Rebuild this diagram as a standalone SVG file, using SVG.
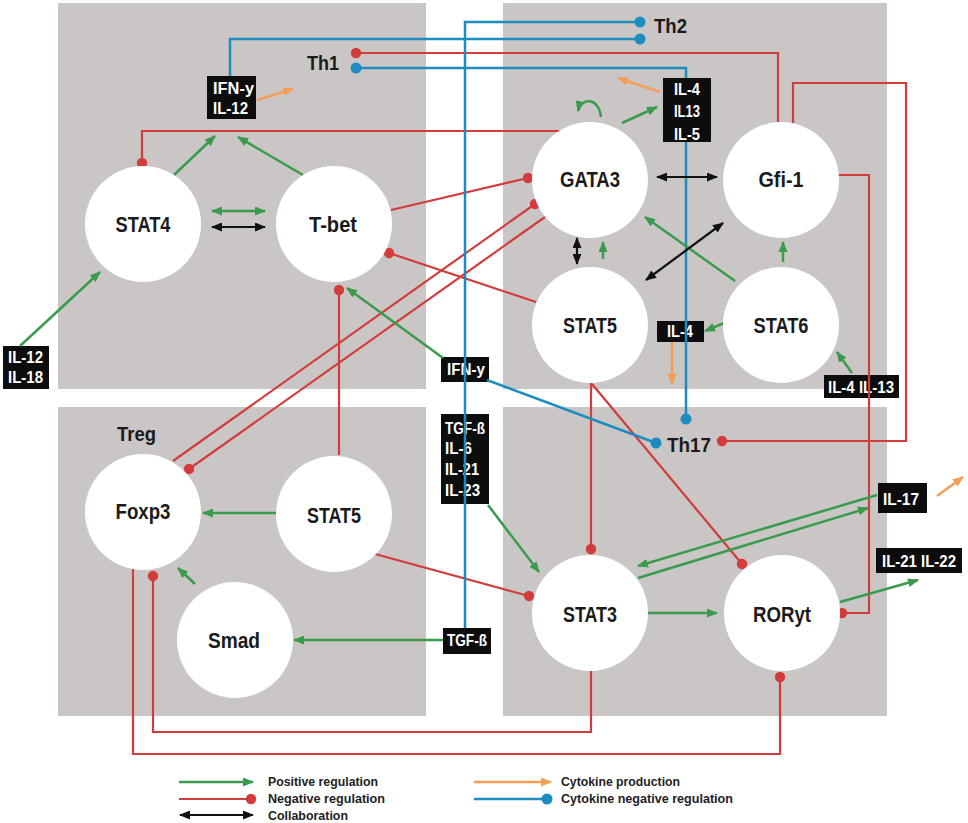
<svg xmlns="http://www.w3.org/2000/svg" width="968" height="823" viewBox="0 0 968 823">
<style>
.panel{fill:#cbc6c6}
.node{fill:#fff}
.nl{font-family:"Liberation Sans",Arial,sans-serif;font-weight:bold;font-size:22px;fill:#1a1a1a;text-anchor:middle}
.th{font-family:"Liberation Sans",Arial,sans-serif;font-weight:bold;font-size:21px;fill:#1a1a1a}
.box{fill:#0d0d0d}
.bt{font-family:"Liberation Sans",Arial,sans-serif;font-weight:bold;font-size:16px;fill:#fff}
.lg{font-family:"Liberation Sans",Arial,sans-serif;font-weight:bold;font-size:13.5px;fill:#222}
.g{stroke:#3a9a4e;stroke-width:2.5;fill:none;marker-end:url(#ag)}
.gg{stroke:#3a9a4e;stroke-width:2.5;fill:none;marker-start:url(#ag);marker-end:url(#ag)}
.r{stroke:#d23c3c;stroke-width:2.2;fill:none;marker-end:url(#dr)}
.rs{stroke:#d23c3c;stroke-width:2.2;fill:none;marker-start:url(#dr)}
.rn{stroke:#d23c3c;stroke-width:2.2;fill:none}
.b{stroke:#1d8dc0;stroke-width:2.5;fill:none;marker-end:url(#db)}
.bb{stroke:#1d8dc0;stroke-width:2.5;fill:none;marker-start:url(#db);marker-end:url(#db)}
.k{stroke:#111;stroke-width:2.2;fill:none;marker-start:url(#ak);marker-end:url(#ak)}
.o{stroke:#f39d55;stroke-width:2.5;fill:none;marker-end:url(#ao)}
</style>
<defs>
<marker id="ag" markerUnits="userSpaceOnUse" markerWidth="11" markerHeight="9" refX="10" refY="4.5" orient="auto-start-reverse"><path d="M0,0 L11,4.5 L0,9 z" fill="#3a9a4e"/></marker>
<marker id="ak" markerUnits="userSpaceOnUse" markerWidth="11" markerHeight="9" refX="10" refY="4.5" orient="auto-start-reverse"><path d="M0,0 L11,4.5 L0,9 z" fill="#111"/></marker>
<marker id="ao" markerUnits="userSpaceOnUse" markerWidth="11" markerHeight="9" refX="10" refY="4.5" orient="auto-start-reverse"><path d="M0,0 L11,4.5 L0,9 z" fill="#f39d55"/></marker>
<marker id="dr" markerUnits="userSpaceOnUse" markerWidth="12" markerHeight="12" refX="6" refY="6" orient="auto"><circle cx="6" cy="6" r="5.2" fill="#d23c3c"/></marker>
<marker id="db" markerUnits="userSpaceOnUse" markerWidth="12" markerHeight="12" refX="6" refY="6" orient="auto"><circle cx="6" cy="6" r="5.5" fill="#1d8dc0"/></marker>
</defs>
<rect width="968" height="823" fill="#fff"/>
<g id="panels">
<rect class="panel" x="58" y="3" width="368" height="386"/>
<rect class="panel" x="503" y="3" width="384" height="386"/>
<rect class="panel" x="58" y="407" width="368" height="309"/>
<rect class="panel" x="503" y="407" width="384" height="309"/>
</g>
<g id="cell-labels">
<text class="th" x="307" y="70" textLength="32" lengthAdjust="spacingAndGlyphs">Th1</text>
<text class="th" x="654" y="33" textLength="33" lengthAdjust="spacingAndGlyphs">Th2</text>
<text class="th" x="667" y="452" textLength="44" lengthAdjust="spacingAndGlyphs">Th17</text>
<text class="th" x="117" y="441" textLength="39" lengthAdjust="spacingAndGlyphs">Treg</text>
</g>
<g id="cytokines">
<g id="c-ifn-il12"><rect class="box" x="207" y="76" width="49" height="43"/><text class="bt" x="213" y="94" textLength="41" lengthAdjust="spacingAndGlyphs">IFN-y</text><text class="bt" x="213" y="114" textLength="35" lengthAdjust="spacingAndGlyphs">IL-12</text></g>
<g id="c-il12-il18"><rect class="box" x="3" y="346" width="46" height="43"/><text class="bt" x="8" y="363" textLength="35" lengthAdjust="spacingAndGlyphs">IL-12</text><text class="bt" x="8" y="383" textLength="35" lengthAdjust="spacingAndGlyphs">IL-18</text></g>
<g id="c-ifn"><rect class="box" x="441" y="357" width="48" height="25"/><text class="bt" x="447" y="375" textLength="38" lengthAdjust="spacingAndGlyphs">IFN-y</text></g>
<g id="c-tgf-group"><rect class="box" x="441" y="414" width="48" height="90"/><text class="bt" x="445" y="434" textLength="40" lengthAdjust="spacingAndGlyphs">TGF-ß</text><text class="bt" x="445" y="454" textLength="27" lengthAdjust="spacingAndGlyphs">IL-6</text><text class="bt" x="445" y="475" textLength="34" lengthAdjust="spacingAndGlyphs">IL-21</text><text class="bt" x="445" y="496" textLength="35" lengthAdjust="spacingAndGlyphs">IL-23</text></g>
<g id="c-tgf"><rect class="box" x="443" y="628" width="48" height="26"/><text class="bt" x="447" y="646" textLength="40" lengthAdjust="spacingAndGlyphs">TGF-ß</text></g>
<g id="c-il4"><rect class="box" x="657" y="321" width="47" height="21"/><text class="bt" x="667" y="337" textLength="26" lengthAdjust="spacingAndGlyphs">IL-4</text></g>
<g id="c-il4-il13"><rect class="box" x="824" y="375" width="75" height="23"/><text class="bt" x="828" y="393" textLength="66" lengthAdjust="spacingAndGlyphs">IL-4 IL-13</text></g>
<g id="c-il17"><rect class="box" x="878" y="483" width="49" height="30"/><text class="bt" x="883" y="505" textLength="36" lengthAdjust="spacingAndGlyphs">IL-17</text></g>
<g id="c-il21-il22"><rect class="box" x="876" y="548" width="86" height="25"/><text class="bt" x="882" y="567" textLength="74" lengthAdjust="spacingAndGlyphs">IL-21 IL-22</text></g>
</g>
<g id="connectors">
<path class="rs" d="M356,53 H778 V122"/>
<path class="r" d="M793,123 V83 H906 V441 H722"/>
<path class="r" d="M838,175 H869 V613 H842"/>
<path class="rs" d="M142,163 V131 H559"/>
<path class="r" d="M391,210 L528,178"/>
<path class="r" d="M536,302 L389,253"/>
<path class="r" d="M173,461 L535,204"/>
<path class="r" d="M545,217 L189,469"/>
<path class="r" d="M339,455 V290"/>
<path class="r" d="M375,554 L529,596"/>
<path class="r" d="M591,383 V549"/>
<path class="r" d="M592,384 L742,564"/>
<path class="r" d="M591,671 V732 H153 V576"/>
<path class="r" d="M133,569 V754 H780 V677"/>
<path class="b" d="M230,76 V39 H640"/>
<path class="b" d="M465,628 V22 H640"/>
<path class="bb" d="M356,68 H686 V419"/>
<path class="b" d="M487,380 L656,443"/>
<path class="g" d="M174,175 L215,136"/>
<path class="g" d="M303,175 L238,137"/>
<path class="gg" d="M212,211 H265"/>
<path class="g" d="M20,346 L100,272"/>
<path class="g" d="M443,358 L347,288"/>
<path class="g" d="M601,117 C599,97 581,97 578,111"/>
<path class="g" d="M622,123 L657,107"/>
<path class="g" d="M603,259 V242"/>
<path class="g" d="M735,281 L645,217"/>
<path class="g" d="M783,262 V242"/>
<path class="g" d="M724,323 L705,331"/>
<path class="g" d="M852,373 L837,352"/>
<path class="g" d="M488,505 L539,572"/>
<path class="g" d="M877,495 L638,566"/>
<path class="g" d="M638,578 L868,508"/>
<path class="g" d="M648,613 H717"/>
<path class="g" d="M840,602 L918,580"/>
<path class="g" d="M276,513 H203"/>
<path class="g" d="M195,584 L178,568"/>
<path class="g" d="M443,640 H294"/>
<path class="k" d="M212,227 H265"/>
<path class="k" d="M657,177 H717"/>
<path class="k" d="M577,238 V264"/>
<path class="k" d="M646,280 L723,223"/>
<path class="o" d="M257,100 L293,89"/>
<path class="o" d="M660,92 L618,78"/>
<path class="o" d="M672,342 V384"/>
<path class="o" d="M937,496 L963,477"/>
</g>
<g id="c-il4-il13-il5"><rect class="box" x="663" y="78" width="48" height="64"/><text class="bt" x="674" y="95" textLength="26" lengthAdjust="spacingAndGlyphs">IL-4</text><text class="bt" x="674" y="117" textLength="26" lengthAdjust="spacingAndGlyphs">IL13</text><text class="bt" x="674" y="140" textLength="26" lengthAdjust="spacingAndGlyphs">IL-5</text></g>
<g id="STAT4"><circle class="node" cx="143" cy="224" r="58"/><text class="nl" x="143" y="232" textLength="55" lengthAdjust="spacingAndGlyphs">STAT4</text></g>
<g id="Tbet"><circle class="node" cx="334" cy="224" r="58"/><text class="nl" x="333" y="232" textLength="48" lengthAdjust="spacingAndGlyphs">T-bet</text></g>
<g id="GATA3"><circle class="node" cx="590" cy="180" r="58"/><text class="nl" x="590" y="187" textLength="60" lengthAdjust="spacingAndGlyphs">GATA3</text></g>
<g id="Gfi1"><circle class="node" cx="781" cy="180" r="58"/><text class="nl" x="781" y="187" textLength="45" lengthAdjust="spacingAndGlyphs">Gfi-1</text></g>
<g id="STAT5-Th2"><circle class="node" cx="590" cy="325" r="58"/><text class="nl" x="590" y="333" textLength="54" lengthAdjust="spacingAndGlyphs">STAT5</text></g>
<g id="STAT6"><circle class="node" cx="781" cy="325" r="58"/><text class="nl" x="781" y="333" textLength="55" lengthAdjust="spacingAndGlyphs">STAT6</text></g>
<g id="Foxp3"><circle class="node" cx="143" cy="512" r="58"/><text class="nl" x="143" y="519" textLength="55" lengthAdjust="spacingAndGlyphs">Foxp3</text></g>
<g id="STAT5-Treg"><circle class="node" cx="334" cy="514" r="58"/><text class="nl" x="334" y="523" textLength="54" lengthAdjust="spacingAndGlyphs">STAT5</text></g>
<g id="Smad"><circle class="node" cx="235" cy="640" r="58"/><text class="nl" x="234" y="648" textLength="52" lengthAdjust="spacingAndGlyphs">Smad</text></g>
<g id="STAT3"><circle class="node" cx="590" cy="613" r="58"/><text class="nl" x="590" y="622" textLength="54" lengthAdjust="spacingAndGlyphs">STAT3</text></g>
<g id="RORyt"><circle class="node" cx="782" cy="613" r="58"/><text class="nl" x="782" y="622" textLength="58" lengthAdjust="spacingAndGlyphs">RORyt</text></g>
<g id="legend">
<path class="g" d="M179,782 H253"/>
<text class="lg" x="268" y="786" textLength="110" lengthAdjust="spacingAndGlyphs">Positive regulation</text>
<path class="r" d="M179,799 H251"/>
<text class="lg" x="268" y="803" textLength="117" lengthAdjust="spacingAndGlyphs">Negative regulation</text>
<path class="k" d="M180,815 H253"/>
<text class="lg" x="268" y="820" textLength="80" lengthAdjust="spacingAndGlyphs">Collaboration</text>
<path class="o" d="M474,782 H551"/>
<text class="lg" x="561" y="786" textLength="119" lengthAdjust="spacingAndGlyphs">Cytokine production</text>
<path class="b" d="M474,799 H547"/>
<text class="lg" x="561" y="803" textLength="172" lengthAdjust="spacingAndGlyphs">Cytokine negative regulation</text>
</g>
</svg>
